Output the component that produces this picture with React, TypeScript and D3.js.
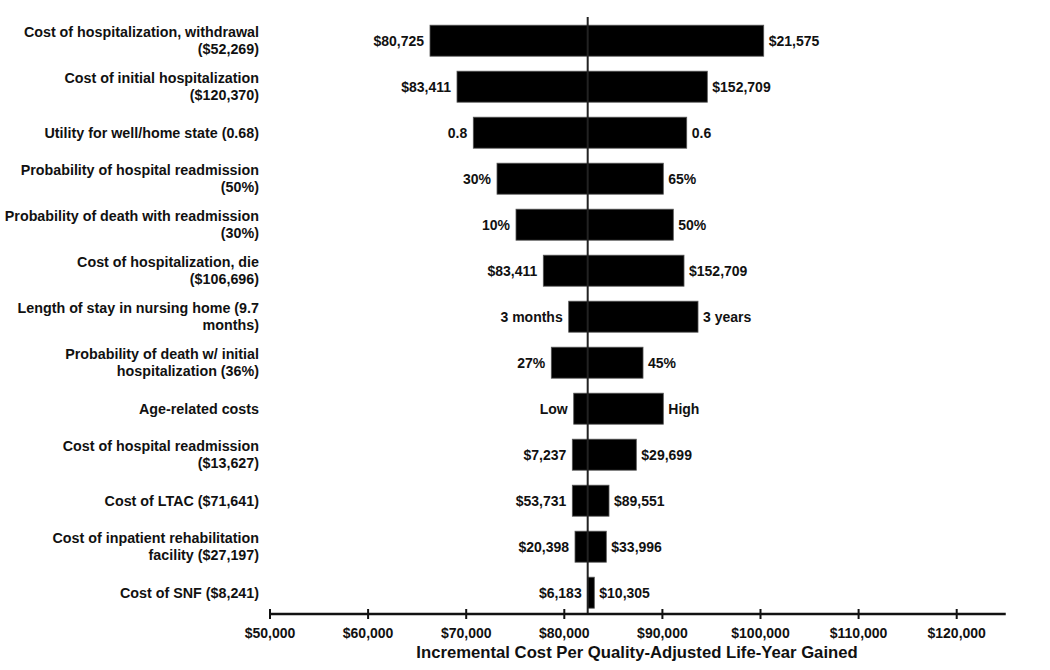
import React from "react";
import * as d3 from "d3";

const categories: string[][] = [
  ["Cost of hospitalization, withdrawal", "($52,269)"],
  ["Cost of initial hospitalization", "($120,370)"],
  ["Utility for well/home state (0.68)"],
  ["Probability of hospital readmission", "(50%)"],
  ["Probability of death with readmission", "(30%)"],
  ["Cost of hospitalization, die", "($106,696)"],
  ["Length of stay in nursing home (9.7", "months)"],
  ["Probability of death w/ initial", "hospitalization (36%)"],
  ["Age-related costs"],
  ["Cost of hospital readmission", "($13,627)"],
  ["Cost of LTAC ($71,641)"],
  ["Cost of inpatient rehabilitation", "facility ($27,197)"],
  ["Cost of SNF ($8,241)"],
];

const lowValues = [66310, 69063, 70724, 73140, 75077, 77860, 80449, 78676, 80959, 80817, 80817, 81092, 82386];
const highValues = [100327, 94578, 92478, 90093, 91112, 92203, 93630, 88024, 90093, 87341, 84557, 84282, 83059];
const lowLabels = ["$80,725", "$83,411", "0.8", "30%", "10%", "$83,411", "3 months", "27%", "Low", "$7,237", "$53,731", "$20,398", "$6,183"];
const highLabels = ["$21,575", "$152,709", "0.6", "65%", "50%", "$152,709", "3 years", "45%", "High", "$29,699", "$89,551", "$33,996", "$10,305"];

const baseCase = 82385;
const tickValues = [50000, 60000, 70000, 80000, 90000, 100000, 110000, 120000];
const axisEndValue = 125000;
const axisTitle = "Incremental Cost Per Quality-Adjusted Life-Year Gained";

const W = 1050;
const H = 670;
const FONT = "'Liberation Sans', Arial, Helvetica, sans-serif";

export default function App() {
  const x = d3.scaleLinear().domain([50000, 120000]).range([270, 956.7]);
  const y = d3
    .scalePoint<number>()
    .domain(categories.map((_, i) => i))
    .range([40.7, 592.7]);
  const barH = 31;
  const axisY = 614;
  const fmt = d3.format("$,");

  return (
    <div style={{ position: "absolute", left: 0, top: 0 }}>
      <svg width={W} height={H} style={{ display: "block", background: "#fff" }} fontFamily={FONT} fontWeight="bold">
        {categories.map((lines, i) => {
          const cy = y(i)!;
          const lo = x(lowValues[i]);
          const hi = x(highValues[i]);
          const lineH = 16.6;
          const startY = cy - ((lines.length - 1) * lineH) / 2;
          return (
            <g key={i}>
              <rect x={lo} y={cy - barH / 2} width={hi - lo} height={barH} fill="#000" stroke="#555" strokeWidth={0.8} />
              <text x={lo - 6} y={cy} dy="0.35em" textAnchor="end" fontSize={14} fill="#111">
                {lowLabels[i]}
              </text>
              <text x={hi + 5} y={cy} dy="0.35em" textAnchor="start" fontSize={14} fill="#111">
                {highLabels[i]}
              </text>
              <text x={259} textAnchor="end" fontSize={14.3} fill="#111">
                {lines.map((l, j) => (
                  <tspan key={j} x={259} y={startY + j * lineH} dy="0.35em">
                    {l}
                  </tspan>
                ))}
              </text>
            </g>
          );
        })}
        <line x1={x(baseCase)} x2={x(baseCase)} y1={17} y2={axisY} stroke="#222" strokeWidth={2} />
        <line x1={x(50000)} x2={x(axisEndValue)} y1={axisY} y2={axisY} stroke="#111" strokeWidth={2.5} />
        {tickValues.map((t) => (
          <g key={t}>
            <line x1={x(t)} x2={x(t)} y1={axisY - 5} y2={axisY + 5} stroke="#111" strokeWidth={2} />
            <text x={x(t)} y={axisY + 19} dy="0.35em" textAnchor="middle" fontSize={14} fill="#111">
              {fmt(t)}
            </text>
          </g>
        ))}
        <text x={637} y={652} dy="0.35em" textAnchor="middle" fontSize={16.7} fill="#111">
          {axisTitle}
        </text>
      </svg>
    </div>
  );
}
